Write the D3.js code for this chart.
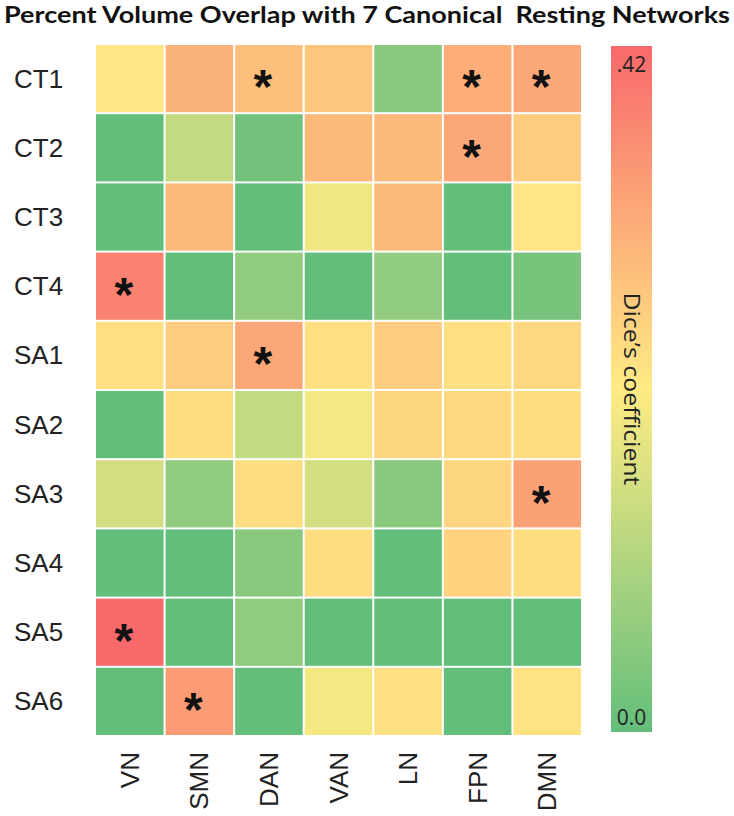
<!DOCTYPE html>
<html>
<head>
<meta charset="utf-8">
<script src="https://cdn.jsdelivr.net/npm/d3@7"></script>
<style>
  html, body { margin: 0; padding: 0; background: #fff; }
  svg { display: block; }
</style>
</head>
<body>
<svg id="chart" width="734" height="816"></svg>
<script>
// ---- data ----
const title = "Percent Volume Overlap with 7 Canonical\u00A0 Resting Networks";
const networks = ["VN", "SMN", "DAN", "VAN", "LN", "FPN", "DMN"];
const components = ["CT1", "CT2", "CT3", "CT4", "SA1", "SA2", "SA3", "SA4", "SA5", "SA6"];
// Dice's coefficient values, rows = components, columns = networks
const values = [
  [0.22, 0.30, 0.28, 0.27, 0.05, 0.31, 0.32],  // CT1
  [0.00, 0.13, 0.02, 0.29, 0.29, 0.32, 0.26],  // CT2
  [0.00, 0.29, 0.00, 0.19, 0.29, 0.00, 0.22],  // CT3
  [0.38, 0.00, 0.06, 0.00, 0.06, 0.00, 0.03],  // CT4
  [0.23, 0.26, 0.32, 0.23, 0.26, 0.23, 0.24],  // SA1
  [0.00, 0.235, 0.13, 0.195, 0.245, 0.24, 0.235], // SA2
  [0.15, 0.06, 0.235, 0.15, 0.05, 0.245, 0.33],  // SA3
  [0.00, 0.00, 0.05, 0.235, 0.00, 0.25, 0.235],  // SA4
  [0.42, 0.00, 0.06, 0.00, 0.00, 0.00, 0.00],   // SA5
  [0.00, 0.34, 0.00, 0.195, 0.23, 0.00, 0.225]  // SA6
];
// significant cells marked with an asterisk: [component, network]
const significant = [
  ["CT1", "DAN"], ["CT1", "FPN"], ["CT1", "DMN"],
  ["CT2", "FPN"], ["CT4", "VN"], ["SA1", "DAN"],
  ["SA3", "DMN"], ["SA5", "VN"], ["SA6", "SMN"]
];
const colorDomain = [0, 0.21, 0.42];
const colorRange = ["#63BE7B", "#FFEB84", "#F8696B"];
const legendTicks = [0, 0.42];
const legendTickLabels = ["0.0", ".42"];
const legendTitle = "Dice\u2019s coefficient";

// ---- drawing ----
const svg = d3.select("#chart");
const color = d3.scaleLinear().domain(colorDomain).range(colorRange);

const x = d3.scaleBand().domain(networks).range([95, 582]).padding(0);
const y = d3.scaleBand().domain(components).range([44, 736]).padding(0);

// title
svg.append("text")
  .attr("x", 4).attr("y", 23)
  .attr("textLength", 726).attr("lengthAdjust", "spacingAndGlyphs")
  .style("font-family", "Lato, 'Open Sans', sans-serif")
  .style("font-weight", "bold").style("font-size", "23px")
  .attr("fill", "#111")
  .text(title);

// cells
const cells = [];
components.forEach((c, i) => networks.forEach((n, j) => cells.push({c, n, v: values[i][j]})));

svg.append("g").selectAll("rect").data(cells).join("rect")
  .attr("x", d => x(d.n) + 1)
  .attr("y", d => y(d.c) + 1)
  .attr("width", x.bandwidth() - 2)
  .attr("height", y.bandwidth() - 2)
  .attr("fill", d => color(d.v));

// asterisks
const astSize = 48;
svg.append("g").selectAll("text").data(significant).join("text")
  .attr("x", d => x(d[1]) + x.bandwidth() / 2 - 6)
  .attr("y", d => y(d[0]) + y.bandwidth() / 2 - 2 + 0.56 * astSize)
  .attr("text-anchor", "middle")
  .style("font-family", "'Liberation Sans', Arial, sans-serif")
  .style("font-weight", "bold")
  .style("font-size", astSize + "px")
  .attr("fill", "#111")
  .text("*");

// row labels
svg.append("g").selectAll("text").data(components).join("text")
  .attr("x", 14)
  .attr("y", d => y(d) + y.bandwidth() / 2 + 9)
  .style("font-family", "'Liberation Sans', Arial, sans-serif")
  .style("font-size", "26px")
  .attr("fill", "#222")
  .text(d => d);

// column labels (rotated)
svg.append("g").selectAll("text").data(networks).join("text")
  .attr("transform", d => `translate(${x(d) + x.bandwidth() / 2 + 9},752) rotate(-90)`)
  .attr("text-anchor", "end")
  .style("font-family", "'Liberation Sans', Arial, sans-serif")
  .style("font-size", "26px")
  .attr("fill", "#222")
  .text(d => d);

// color bar
const barX = 611, barW = 41, barTop = 46, barBottom = 732;
const ly = d3.scaleLinear().domain([colorDomain[0], colorDomain[2]]).range([barBottom, barTop]);
const defs = svg.append("defs");
const grad = defs.append("linearGradient").attr("id", "cbar")
  .attr("x1", 0).attr("y1", 1).attr("x2", 0).attr("y2", 0);
d3.range(0, 1.0001, 0.05).forEach(t => {
  grad.append("stop").attr("offset", t)
    .attr("stop-color", color(colorDomain[0] + t * (colorDomain[2] - colorDomain[0])));
});
svg.append("rect")
  .attr("x", barX).attr("y", ly(colorDomain[2]))
  .attr("width", barW).attr("height", ly(colorDomain[0]) - ly(colorDomain[2]))
  .attr("fill", "url(#cbar)");

svg.append("g").selectAll("text").data(legendTicks).join("text")
  .attr("x", barX + barW / 2)
  .attr("y", (d, i) => i === 0 ? ly(d) - 7 : ly(d) + 26)
  .attr("text-anchor", "middle")
  .style("font-family", "'Open Sans', 'DejaVu Sans', sans-serif")
  .style("font-size", "21px")
  .attr("fill", "#222")
  .text((d, i) => legendTickLabels[i]);

svg.append("text")
  .attr("transform", `translate(${barX + 13},${(barTop + barBottom) / 2}) rotate(90)`)
  .attr("text-anchor", "middle")
  .attr("textLength", 193).attr("lengthAdjust", "spacingAndGlyphs")
  .style("font-family", "'Open Sans', 'DejaVu Sans', sans-serif")
  .style("font-size", "21px")
  .attr("fill", "#222")
  .text(legendTitle);
</script>
</body>
</html>
